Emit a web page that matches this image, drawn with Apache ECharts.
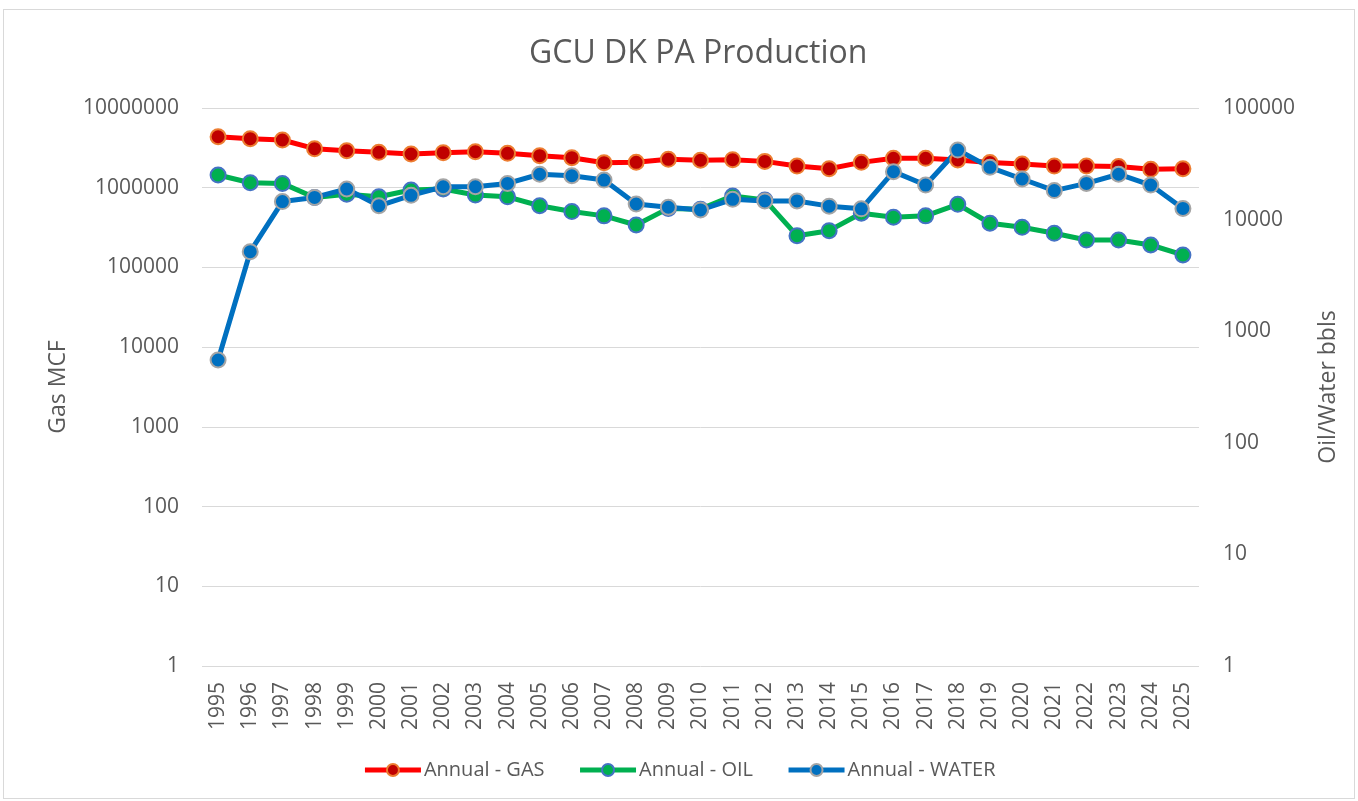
<!DOCTYPE html>
<html>
<head>
<meta charset="utf-8">
<script src="https://cdn.jsdelivr.net/npm/echarts@6/dist/echarts.min.js"></script>
<style>
html,body{margin:0;padding:0;background:#fff;}
#frame{position:absolute;left:3px;top:9px;width:1352px;height:790px;border:1px solid #D9D9D9;box-sizing:border-box;}
#chart{position:absolute;left:0;top:0;width:1358px;height:801px;}
</style>
</head>
<body>
<div id="frame"></div>
<div id="chart"></div>
<script>
const years = ['1995','1996','1997','1998','1999','2000','2001','2002','2003','2004','2005','2006','2007','2008','2009','2010','2011','2012','2013','2014','2015','2016','2017','2018','2019','2020','2021','2022','2023','2024','2025'];
const gas = [4360000,4120000,3970000,3090000,2910000,2780000,2650000,2750000,2830000,2700000,2520000,2380000,2060000,2080000,2270000,2210000,2250000,2140000,1870000,1730000,2080000,2340000,2340000,2230000,2070000,1980000,1870000,1870000,1840000,1700000,1730000];
const oil = [25100,21400,21100,15800,16900,16000,18400,18800,16600,16000,13300,11800,10800,8950,12600,12400,16300,15000,7180,7960,11400,10500,10800,13700,9270,8530,7540,6560,6560,5920,4820];
const water = [552,5160,14500,15800,18800,13300,16500,19700,19700,21100,25500,24700,22600,13800,12900,12200,15200,14700,14700,13200,12500,26900,20400,42000,29400,23100,18200,21100,25500,20400,12600];
const leftTicks = ['1','10','100','1000','10000','100000','1000000','10000000'];
const rightTicks = ['1','10','100','1000','10000','100000'];

const FONT = '"Open Sans", "Liberation Sans", sans-serif';
const TXT = '#595959';
const chart = echarts.init(document.getElementById('chart'), null, {renderer:'canvas'});
const fmt = v => String(Math.round(v));
chart.setOption({
  animation:false,
  title:{text:'GCU DK PA Production',left:524,top:33,textStyle:{fontFamily:FONT,fontSize:32,fontWeight:'normal',color:TXT}},
  legend:{bottom:16,left:'center',itemWidth:56,itemHeight:15,itemGap:33,
    lineStyle:{width:5},
    textStyle:{fontFamily:FONT,fontSize:20,color:TXT,padding:[0,0,0,-2]},
    data:['Annual - GAS','Annual - OIL','Annual - WATER']},
  grid:{left:202,right:159,top:108,bottom:135,containLabel:false},
  xAxis:{type:'category',data:years,boundaryGap:true,
    axisLine:{show:false},axisTick:{show:false},
    axisLabel:{rotate:90,margin:16,fontFamily:FONT,fontSize:21,color:TXT,interval:0}},
  yAxis:[
    {type:'log',logBase:10,min:1,max:10000000,splitNumber:7,name:'Gas MCF',nameLocation:'middle',nameGap:132,
     nameTextStyle:{fontFamily:FONT,fontSize:23,color:TXT},
     axisLine:{show:false},axisTick:{show:false},
     splitLine:{show:true,lineStyle:{color:'#D9D9D9',width:1}},
     axisLabel:{margin:23,fontFamily:FONT,fontSize:21,color:TXT,formatter:v=>{const s=fmt(v);return leftTicks.includes(s)?s:'';}}},
    {type:'log',logBase:10,min:1,max:100000,splitNumber:5,name:'Oil/Water bbls',nameLocation:'middle',nameGap:118,
     nameTextStyle:{fontFamily:FONT,fontSize:23,color:TXT},
     axisLine:{show:false},axisTick:{show:false},splitLine:{show:false},
     axisLabel:{margin:24,fontFamily:FONT,fontSize:21,color:TXT,formatter:v=>{const s=fmt(v);return rightTicks.includes(s)?s:'';}}}
  ],
  series:[
    {name:'Annual - GAS',type:'line',yAxisIndex:0,data:gas,symbol:'circle',symbolSize:15,
     lineStyle:{color:'#FF0000',width:5},itemStyle:{color:'#C00000',borderColor:'#ED7D31',borderWidth:2}},
    {name:'Annual - OIL',type:'line',yAxisIndex:1,data:oil,symbol:'circle',symbolSize:15,
     lineStyle:{color:'#00B050',width:5},itemStyle:{color:'#00B050',borderColor:'#4472C4',borderWidth:2}},
    {name:'Annual - WATER',type:'line',yAxisIndex:1,data:water,symbol:'circle',symbolSize:15,
     lineStyle:{color:'#0070C0',width:5},itemStyle:{color:'#0070C0',borderColor:'#A5A5A5',borderWidth:2}}
  ]
});
</script>
</body>
</html>
